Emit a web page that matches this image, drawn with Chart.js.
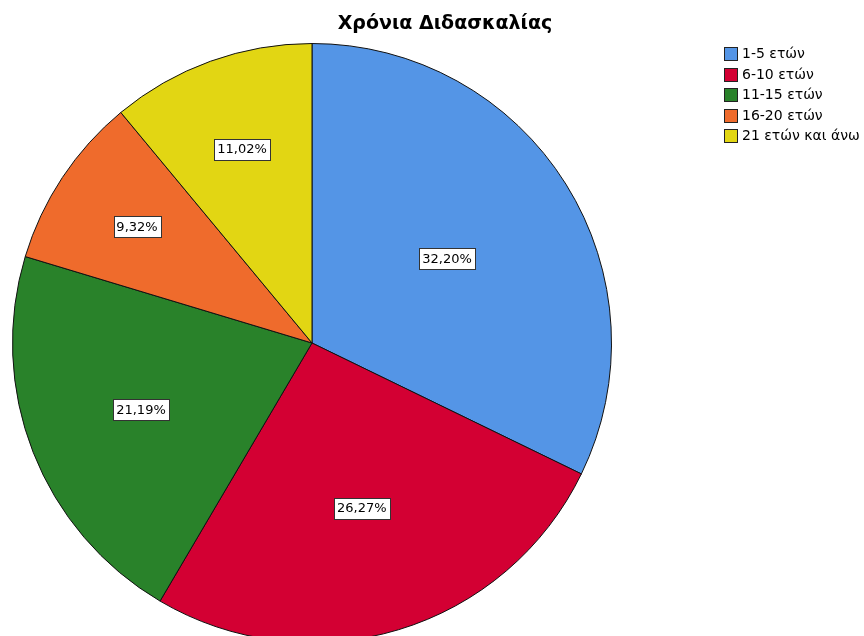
<!DOCTYPE html>
<html>
<head>
<meta charset="utf-8">
<script src="https://cdn.jsdelivr.net/npm/chart.js@4/dist/chart.umd.min.js"></script>
<style>
  html, body { margin: 0; padding: 0; background: #fff; overflow: hidden; }
  #wrap { width: 864px; height: 636px; overflow: hidden; position: relative; }
  canvas { display: block; }
</style>
</head>
<body>
<div id="wrap"><canvas id="pieChart" width="864" height="700"></canvas></div>
<script>
// Χρόνια Διδασκαλίας - ποσοστά ανά κατηγορία
var chartTitle = "Χρόνια Διδασκαλίας";
var categories = ["1-5 ετών", "6-10 ετών", "11-15 ετών", "16-20 ετών", "21 ετών και άνω"];
var percents   = [32.20, 26.27, 21.19, 9.32, 11.02];
var sliceColors = ["#5495e6", "#d30033", "#29822a", "#ef6b2c", "#e2d613"];

var FONT = "'DejaVu Sans', Verdana, sans-serif";

function fmtPct(v){
  return v.toFixed(2).replace(".", ",") + "%";
}

// labels inside each slice, white box with dark border
var sliceLabels = {
  id: "sliceLabels",
  afterDatasetsDraw: function(chart){
    var ctx = chart.ctx;
    var meta = chart.getDatasetMeta(0);
    ctx.save();
    ctx.font = "13px " + FONT;
    ctx.textAlign = "center";
    ctx.textBaseline = "middle";
    meta.data.forEach(function(arc, i){
      var p = arc.getProps(["x", "y", "startAngle", "endAngle", "outerRadius"], true);
      var mid = (p.startAngle + p.endAngle) / 2;
      // smaller slices get their label pushed further out
      var d = p.outerRadius * (0.77 - 0.74 * percents[i] / 100);
      var cx = p.x + Math.cos(mid) * d;
      var cy = p.y + Math.sin(mid) * d;
      var txt = fmtPct(percents[i]);
      var w = Math.round(ctx.measureText(txt).width) + 6;
      var h = 21;
      var bx = Math.round(cx - w / 2) + 0.5, by = Math.round(cy - h / 2) + 0.5;
      ctx.fillStyle = "#fff";
      ctx.fillRect(bx, by, w, h);
      ctx.strokeStyle = "#333";
      ctx.lineWidth = 1;
      ctx.strokeRect(bx, by, w, h);
      ctx.fillStyle = "#000";
      ctx.fillText(txt, cx, cy + 1);
    });
    ctx.restore();
  }
};

// title and legend on the right
var titleLegend = {
  id: "titleLegend",
  afterDraw: function(chart){
    var ctx = chart.ctx;
    ctx.save();
    ctx.fillStyle = "#000";
    ctx.font = "bold 19px " + FONT;
    ctx.textAlign = "center";
    ctx.textBaseline = "middle";
    ctx.fillText(chartTitle, 445, 24);

    ctx.font = "14px " + FONT;
    ctx.textAlign = "left";
    categories.forEach(function(c, i){
      var y = Math.round(47 + i * 20.5);
      ctx.fillStyle = sliceColors[i];
      ctx.fillRect(724, y, 13, 13);
      ctx.strokeStyle = "#222";
      ctx.lineWidth = 1;
      ctx.strokeRect(724.5, y + 0.5, 13, 13);
      ctx.fillStyle = "#000";
      ctx.fillText(c, 742, y + 7.5);
    });
    ctx.restore();
  }
};

var ctx = document.getElementById("pieChart").getContext("2d");
var pieChart = new Chart(ctx, {
  type: "pie",
  data: {
    labels: categories,
    datasets: [{
      data: percents,
      backgroundColor: sliceColors,
      borderColor: "#111",
      borderWidth: 1
    }]
  },
  options: {
    responsive: false,
    animation: false,
    layout: { padding: { left: 12, top: 43, right: 252, bottom: 57 } },
    plugins: {
      legend: { display: false },
      title: { display: false },
      tooltip: { enabled: false }
    }
  },
  plugins: [sliceLabels, titleLegend]
});
</script>
</body>
</html>
